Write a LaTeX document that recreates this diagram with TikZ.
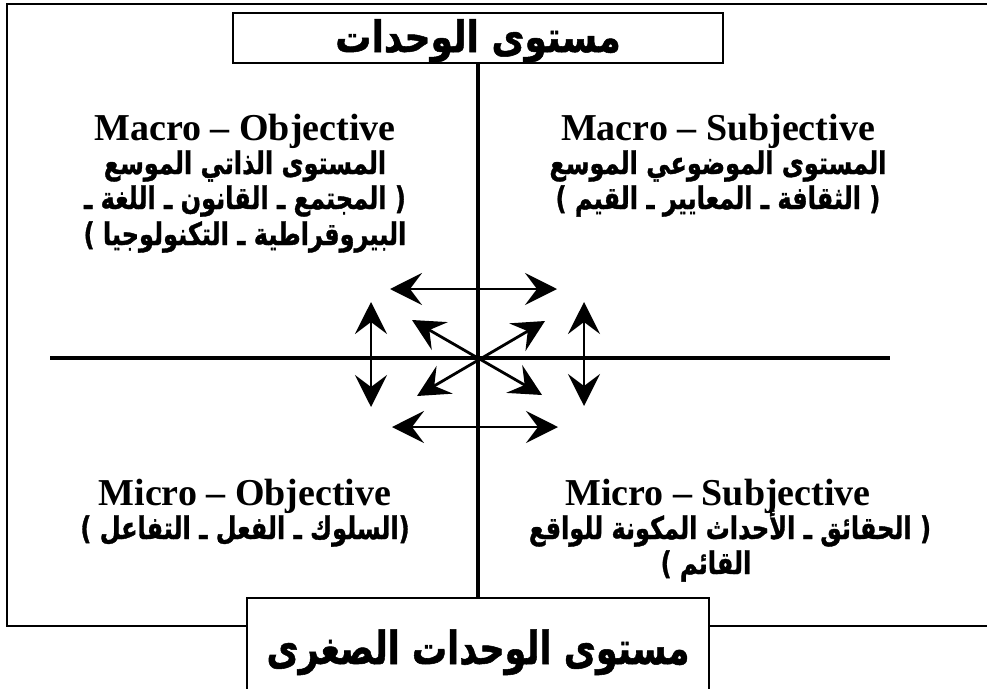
\documentclass[tikz,border=0pt]{standalone}
\usepackage{fontspec}
\usepackage{graphicx}
\setmainfont{Liberation Serif}
\newfontfamily\arabicfont[Script=Arabic, BoldFeatures={FakeBold=1.2}]{DejaVu Sans}
\TeXXeTstate=1
\usetikzlibrary{arrows.meta}
\newcommand{\artext}[1]{\scalebox{1}[1.3]{\beginR #1\endR}}
\newcommand{\artextbox}[1]{\scalebox{1}[1.2]{\beginR #1\endR}}
\tikzset{
  frameline/.style={line width=2.2pt},
  axisline/.style={line width=4pt},
  boxstyle/.style={draw, line width=2.2pt, fill=white, inner sep=0pt},
  latinline/.style={anchor=base, inner sep=0pt, font=\fontsize{38}{40}\selectfont\bfseries},
  arline/.style={anchor=base, inner sep=0pt, font=\arabicfont\bfseries\fontsize{24}{30}\selectfont},
  boxtext/.style={anchor=base, inner sep=0pt, font=\arabicfont\bfseries\fontsize{36}{40}\selectfont},
  boxtextb/.style={anchor=base, inner sep=0pt, font=\arabicfont\bfseries\fontsize{35}{40}\selectfont},
  dblarrow/.style={line width=2.8pt, {Stealth[length=32pt,width=32pt,inset=12pt]}-{Stealth[length=32pt,width=32pt,inset=12pt]}},
}
\begin{document}
\begin{tikzpicture}[x=1pt,y=-1pt]
\useasboundingbox (0,0) rectangle (987,688);
% outer frame
\coordinate (frTR) at (990,4);
\coordinate (frTL) at (7,4);
\coordinate (frBL) at (7,626);
\coordinate (frBR) at (990,626);
\draw[frameline] (frTR) -- (frTL) -- (frBL) -- (frBR);
% boxes
\node[boxstyle, minimum width=490pt, minimum height=50pt] (topbox) at (478,38) {};
\node[boxtext] (toptext) at (478,52) {\artextbox{مستوى الوحدات}};
\node[boxstyle, minimum width=462pt, minimum height=110pt] (botbox) at (478,653) {};
\node[boxtextb] (bottext) at (478,664) {\artext{مستوى الوحدات الصغرى}};
% axes
\coordinate (haxL) at (50,358);
\coordinate (haxR) at (890,358);
\draw[axisline] (topbox.south) -- (botbox.north);
\draw[axisline] (haxL) -- (haxR);
% arrows
\coordinate (a1) at (390,289); \coordinate (a2) at (557,289);
\coordinate (b1) at (392,427); \coordinate (b2) at (558,427);
\coordinate (c1) at (371,302); \coordinate (c2) at (371,407);
\coordinate (d1) at (584,302); \coordinate (d2) at (584,406);
\coordinate (e1) at (412,320); \coordinate (e2) at (542,395);
\coordinate (f1) at (545,321); \coordinate (f2) at (417,396);
\draw[dblarrow] (a1) -- (a2);
\draw[dblarrow] (b1) -- (b2);
\draw[dblarrow] (c1) -- (c2);
\draw[dblarrow] (d1) -- (d2);
\draw[dblarrow] (e1) -- (e2);
\draw[dblarrow] (f1) -- (f2);
% top-left
\node[latinline] (mo0) at (245,140) {Macro – Objective};
\node[arline] (mo1) at (245,174) {\artext{المستوى الذاتي الموسع}};
\node[arline] (mo2) at (245,209) {\artext{( المجتمع ـ القانون ـ اللغة ـ}};
\node[arline] (mo3) at (245,245) {\artext{البيروقراطية ـ التكنولوجيا )}};
% top-right
\node[latinline] (ms0) at (718,140) {Macro – Subjective};
\node[arline] (ms1) at (718,174) {\artext{المستوى الموضوعي الموسع}};
\node[arline] (ms2) at (718,209) {\artext{( الثقافة ـ المعايير ـ القيم )}};
% bottom-left
\node[latinline] (io0) at (245,505) {Micro – Objective};
\node[arline] (io1) at (245,539) {\artext{(السلوك ـ الفعل ـ التفاعل )}};
% bottom-right
\node[latinline] (is0) at (718,505) {Micro – Subjective};
\node[arline] (is1) at (730,539) {\artext{( الحقائق ـ الأحداث المكونة للواقع}};
\node[arline] (is2) at (706,574) {\artext{القائم )}};
\end{tikzpicture}
\end{document}
